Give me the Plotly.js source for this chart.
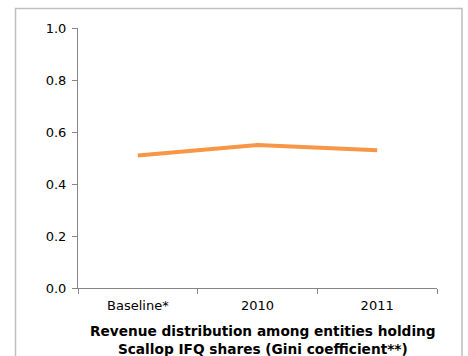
<!DOCTYPE html>
<html>
<head>
<meta charset="utf-8">
<script src="https://cdn.plot.ly/plotly-3.0.1.min.js"></script>
<style>html,body{margin:0;padding:0;background:#fff;}#chart{width:468px;height:356px;}</style>
</head>
<body>
<div id="chart"></div>
<script>
var categories = ["Baseline*", "2010", "2011"];
var giniValues = [0.51, 0.55, 0.53];
var yTickValues = [0, 0.2, 0.4, 0.6, 0.8, 1.0];
var yTickLabels = ["0.0", "0.2", "0.4", "0.6", "0.8", "1.0"];
var titleLines = ["Revenue distribution among entities holding", "Scallop IFQ shares (Gini coefficient**)"];

var L = 78, R = 31, T = 28, B = 68, W = 468 - L - R, H = 356 - T - B;

var trace = {
  x: categories,
  y: giniValues,
  type: "scatter",
  mode: "lines",
  line: {color: "#f79646", width: 4},
  hoverinfo: "skip"
};

var layout = {
  width: 468, height: 356,
  margin: {l: L, r: R, t: T, b: B, pad: 0},
  paper_bgcolor: "#ffffff",
  plot_bgcolor: "#ffffff",
  showlegend: false,
  font: {family: "DejaVu Sans, Verdana, sans-serif", size: 13, color: "#000"},
  xaxis: {
    type: "category",
    range: [-0.5, 2.5],
    showgrid: false, zeroline: false,
    showline: true, linecolor: "#868686", linewidth: 1,
    ticks: "outside", ticklen: 5, tickcolor: "#868686", tickwidth: 1,
    tickson: "boundaries",
    ticklabelstandoff: 5,
    tickfont: {size: 13},
    fixedrange: true
  },
  yaxis: {
    range: [0, 1.0],
    tickvals: yTickValues,
    ticktext: yTickLabels,
    showgrid: false, zeroline: false,
    showline: true, linecolor: "#868686", linewidth: 1,
    ticks: "outside", ticklen: 5, tickcolor: "#868686", tickwidth: 1,
    ticklabelstandoff: 3,
    tickfont: {size: 13},
    fixedrange: true
  },
  shapes: [{
    type: "rect", xref: "paper", yref: "paper",
    x0: (15.5 - L) / W, x1: (462 - L) / W,
    y0: (288 - 370) / H, y1: (288 - 8.5) / H,
    line: {color: "#bfbfbf", width: 1.5},
    fillcolor: "rgba(0,0,0,0)"
  }],
  annotations: [{
    xref: "paper", yref: "paper",
    x: (262.5 - L) / W, y: (288 - 340) / H,
    xanchor: "center", yanchor: "middle",
    showarrow: false,
    align: "center",
    text: "<b>" + titleLines.join("<br>") + "</b>",
    font: {size: 13.7, family: "DejaVu Sans, Verdana, sans-serif", color: "#000"}
  }]
};

Plotly.newPlot("chart", [trace], layout, {displayModeBar: false, staticPlot: true});
</script>
</body>
</html>
